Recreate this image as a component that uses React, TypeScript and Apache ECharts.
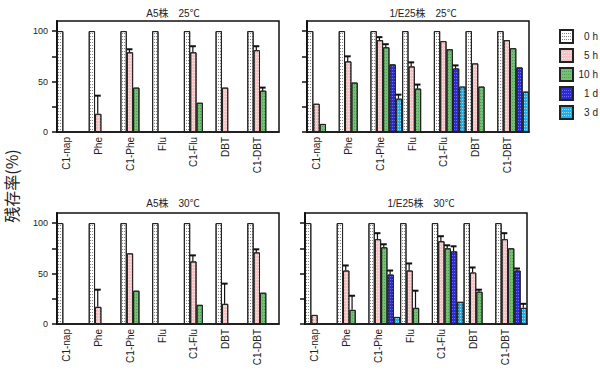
import React, { useEffect, useRef } from "react";
import * as echarts from "echarts";

const categories = ["C1-nap", "Phe", "C1-Phe", "Flu", "C1-Flu", "DBT", "C1-DBT"];
const seriesNames = ["0 h", "5 h", "10 h", "1 d", "3 d"];
const panelTitles = ["A5株　25℃", "1/E25株　25℃", "A5株　30℃", "1/E25株　30℃"];
const yTicks = [0, 25, 50, 75, 100];
const yLabels = [0, 50, 100];

// A5 25℃
const a5t25_0h = [100, 100, 100, 100, 100, 100, 100];
const a5t25_5h = [0, 18, 79, 0, 79, 44, 81];
const a5t25_10h = [0, 0, 44, 0, 29, 0, 41];
const a5t25_1d = [0, 0, 0, 0, 0, 0, 0];
const a5t25_3d = [0, 0, 0, 0, 0, 0, 0];
const a5t25_err5h = [0, 18, 3, 0, 6, 0, 4];
const a5t25_err10h = [0, 0, 0, 0, 0, 0, 3];

// 1/E25 25℃
const e25t25_0h = [100, 100, 100, 100, 100, 100, 100];
const e25t25_5h = [28, 70, 91, 65, 90, 68, 91];
const e25t25_10h = [8, 49, 84, 43, 82, 45, 83];
const e25t25_1d = [0, 0, 67, 0, 63, 0, 64];
const e25t25_3d = [0, 0, 33, 0, 45, 0, 40];
const e25t25_err5h = [0, 5, 3, 4, 0, 0, 0];
const e25t25_err10h = [0, 0, 3, 4, 0, 0, 0];
const e25t25_err1d = [0, 0, 0, 0, 3, 0, 0];
const e25t25_err3d = [0, 0, 4, 0, 0, 0, 0];

// A5 30℃
const a5t30_0h = [100, 100, 100, 100, 100, 100, 100];
const a5t30_5h = [0, 17, 70, 0, 62, 20, 71];
const a5t30_10h = [0, 0, 33, 0, 19, 0, 31];
const a5t30_1d = [0, 0, 0, 0, 0, 0, 0];
const a5t30_3d = [0, 0, 0, 0, 0, 0, 0];
const a5t30_err5h = [0, 17, 0, 0, 6, 20, 3];

// 1/E25 30℃
const e25t30_0h = [100, 100, 100, 100, 100, 100, 100];
const e25t30_5h = [9, 53, 84, 53, 82, 51, 84];
const e25t30_10h = [0, 14, 76, 16, 75, 32, 75];
const e25t30_1d = [0, 0, 49, 0, 72, 0, 53];
const e25t30_3d = [0, 0, 7, 0, 22, 0, 16];
const e25t30_err5h = [0, 5, 6, 7, 5, 5, 6];
const e25t30_err10h = [0, 14, 3, 17, 3, 2, 0];
const e25t30_err1d = [0, 0, 4, 0, 5, 0, 2];
const e25t30_err3d = [0, 0, 0, 0, 0, 0, 4];

const zeros = [0, 0, 0, 0, 0, 0, 0];

const panels = [
  { values: [a5t25_0h, a5t25_5h, a5t25_10h, a5t25_1d, a5t25_3d], errors: [zeros, a5t25_err5h, a5t25_err10h, zeros, zeros] },
  { values: [e25t25_0h, e25t25_5h, e25t25_10h, e25t25_1d, e25t25_3d], errors: [zeros, e25t25_err5h, e25t25_err10h, e25t25_err1d, e25t25_err3d] },
  { values: [a5t30_0h, a5t30_5h, a5t30_10h, a5t30_1d, a5t30_3d], errors: [zeros, a5t30_err5h, zeros, zeros, zeros] },
  { values: [e25t30_0h, e25t30_5h, e25t30_10h, e25t30_1d, e25t30_3d], errors: [zeros, e25t30_err5h, e25t30_err10h, e25t30_err1d, e25t30_err3d] },
];

const grids = [
  { left: 57, top: 21, width: 222, height: 111 },
  { left: 307, top: 21, width: 222, height: 111 },
  { left: 57, top: 213, width: 222, height: 111 },
  { left: 305, top: 213, width: 222, height: 111 },
];

const barColors = ["#ffffff", "#f8c2c2", "#74c074", "#2a2ad8", "#20b0ee"];
const decalColors = ["rgba(90,90,90,0.75)", "rgba(255,255,255,0.6)", "rgba(40,110,40,0.45)", "rgba(140,140,255,0.7)", "rgba(200,240,255,0.7)"];

export default function App() {
  const ref = useRef<HTMLDivElement>(null);
  useEffect(() => {
    document.body.style.margin = "0";
    const chart = echarts.init(ref.current!, null, { renderer: "svg" });
    const series: any[] = [];
    panels.forEach((p, gi) => {
      p.values.forEach((vals, si) => {
        series.push({
          type: "bar",
          name: seriesNames[si],
          xAxisIndex: gi,
          yAxisIndex: gi,
          data: vals,
          barGap: "0%",
          barCategoryGap: "0%",
          itemStyle: {
            color: barColors[si],
            borderColor: "#222",
            borderWidth: 1,
            decal: {
              symbol: "rect",
              symbolSize: 1,
              color: decalColors[si],
              dashArrayX: [1, 1],
              dashArrayY: [1, 2],
              rotation: 0,
            },
          },
        });
      });
      const errData: number[][] = [];
      p.errors.forEach((errs, si) => {
        errs.forEach((e, ci) => {
          if (e > 0) errData.push([ci, si, p.values[si][ci], e]);
        });
      });
      series.push({
        type: "custom",
        xAxisIndex: gi,
        yAxisIndex: gi,
        z: 5,
        data: errData,
        encode: { x: 0, y: 2 },
        renderItem: (params: any, api: any) => {
          const cat = api.value(0);
          const s = api.value(1);
          const v = api.value(2);
          const e = api.value(3);
          const base = api.coord([cat, v]);
          const top = api.coord([cat, v + e]);
          const w = api.size([1, 0])[0];
          const bw = w / 5;
          const x = base[0] - w / 2 + (s + 0.5) * bw - 0.5;
          return {
            type: "group",
            children: [
              { type: "line", shape: { x1: x, y1: base[1], x2: x, y2: top[1] }, style: { stroke: "#111", lineWidth: 1.2 } },
              { type: "line", shape: { x1: x - 3, y1: top[1], x2: x + 3, y2: top[1] }, style: { stroke: "#111", lineWidth: 2 } },
            ],
          };
        },
      });
    });

    const option: any = {
      animation: false,
      textStyle: { fontFamily: "Arial, 'Liberation Sans', sans-serif" },
      title: panelTitles.map((t, i) => ({
        text: t,
        left: grids[i].left + grids[i].width / 2,
        top: i < 2 ? 3 : 193,
        textAlign: "center",
        textStyle: { fontSize: 10, fontWeight: "normal", color: "#222", fontFamily: "Arial, 'Noto Sans CJK JP', sans-serif" },
      })),
      legend: {
        data: seriesNames,
        orient: "vertical",
        left: 559,
        top: 29,
        padding: 0,
        itemWidth: 13,
        itemHeight: 13,
        itemGap: 4,
        icon: "rect",
        formatter: (name: string) => `{a|${name}}`,
        textStyle: { rich: { a: { width: 20, align: "right", fontSize: 10, color: "#222" } } },
      },
      grid: grids.map((g) => ({ ...g, show: true, borderColor: "#111", borderWidth: 1.5, backgroundColor: "transparent" })),
      xAxis: grids.map((g, i) => ({
        type: "category",
        gridIndex: i,
        data: categories,
        axisLine: { lineStyle: { color: "#111", width: 1.5 } },
        axisTick: { show: false },
        axisLabel: {
          rotate: 90,
          margin: 5,
          interval: 0,
          formatter: (v: string) => `{a|${v}}`,
          rich: { a: { fontSize: 10, color: "#222", padding: [0, 0, 12, 0] } },
        },
      })),
      yAxis: grids.map((g, i) => ({
        type: "value",
        gridIndex: i,
        min: 0,
        max: 110,
        interval: 25,
        splitLine: { show: false },
        axisLine: { show: true, lineStyle: { color: "#111", width: 2 } },
        axisTick: { show: true, length: 5, customValues: yTicks, lineStyle: { color: "#111", width: 1.5 } },
        axisLabel: { show: i % 2 === 0, customValues: yLabels, fontSize: 9, color: "#222", margin: 9 },
      })),
      graphic: [
        {
          type: "text",
          x: 11,
          y: 186,
          rotation: Math.PI / 2,
          style: {
            text: "残存率(%)",
            font: "16px 'Noto Sans CJK JP'",
            align: "center",
            verticalAlign: "middle",
            fill: "#222",
          },
        },
      ],
      series,
    };
    chart.setOption(option);
    return () => chart.dispose();
  }, []);
  return <div ref={ref} style={{ width: 600, height: 373 }} />;
}
